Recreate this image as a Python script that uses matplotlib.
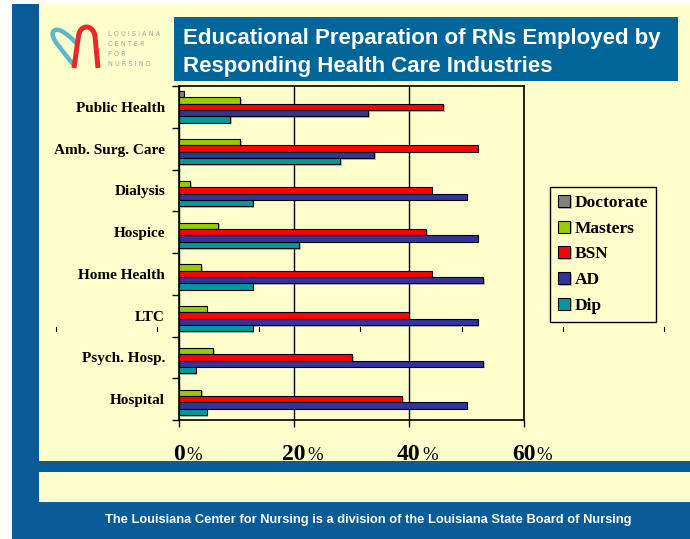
import numpy as np
import matplotlib
matplotlib.use("Agg")
from matplotlib import pyplot as plt
from matplotlib.patches import Rectangle, PathPatch
from matplotlib.lines import Line2D
from matplotlib.path import Path
from matplotlib.transforms import Affine2D
import matplotlib.patheffects as pe

# data (percent of RNs)
categories = ["Public Health", "Amb. Surg. Care", "Dialysis", "Hospice",
              "Home Health", "LTC", "Psych. Hosp.", "Hospital"]
doctorate = [0.8, 0, 0, 0, 0, 0, 0, 0]
masters = [10.7, 10.7, 2.0, 6.8, 3.9, 4.8, 5.9, 3.9]
bsn = [46.0, 52.0, 44.0, 43.0, 44.0, 40.0, 30.1, 38.9]
ad = [32.9, 34.0, 50.1, 52.0, 52.9, 52.0, 52.9, 50.1]
dip = [8.9, 28.0, 12.8, 20.9, 12.8, 12.8, 2.9, 4.8]
series_names = ["Doctorate", "Masters", "BSN", "AD", "Dip"]
xtick_vals = [0, 20, 40, 60]
xtick_text = ["0", "20", "40", "60"]

colors = ["#808080", "#99CC00", "#FF0000", "#333399", "#009999"]
cream = "#FFFFCC"
band_blue = "#0A5C98"
title_blue = "#006699"

W, H = 690, 539
fig = plt.figure(figsize=(6.9, 5.39), dpi=100, facecolor="white")
# pixel coords (origin top-left) -> figure
pix = Affine2D().scale(1 / W, -1 / H).translate(0, 1) + fig.transFigure


def rect(x0, y0, x1, y1, color, z=-10):
    fig.add_artist(Rectangle((x0, y0), x1 - x0, y1 - y0, transform=pix,
                             facecolor=color, edgecolor="none", zorder=z))


# page background
rect(12, 4, 690, 539, band_blue)
rect(39, 4, 690, 461, cream)
rect(39, 472, 690, 502, cream)
rect(174, 17, 678, 81, title_blue, z=-5)

# logo
teal = Path([(75.5, 67), (62, 50), (50, 38), (53, 32), (56, 27), (64, 30), (77, 44)],
            [Path.MOVETO, Path.CURVE4, Path.CURVE4, Path.CURVE4,
             Path.CURVE4, Path.CURVE4, Path.CURVE4])
red = Path([(74, 68), (78.5, 36), (80, 24), (93, 24), (95, 36), (98, 68)],
           [Path.MOVETO, Path.LINETO, Path.CURVE4, Path.CURVE4, Path.CURVE4, Path.LINETO])
fig.add_artist(PathPatch(teal, transform=pix, facecolor="none", edgecolor="#5BB8CC", lw=3.2))
fig.add_artist(PathPatch(red, transform=pix, facecolor="none", edgecolor="#E8292A", lw=3.6))
for i, word in enumerate(["LOUISIANA", "CENTER", "FOR", "NURSING"]):
    fig.text(108 / W, 1 - (34 + 10 * i) / H, " ".join(word), fontsize=4.7,
             color="#a0a0a0", va="center", ha="left")

# title
fig.text(183 / W, 1 - 44 / H, "Educational Preparation of RNs Employed by",
         color="white", fontsize=16, weight="bold", family="Liberation Sans", va="baseline")
fig.text(183 / W, 1 - 72 / H, "Responding Health Care Industries",
         color="white", fontsize=16, weight="bold", family="Liberation Sans", va="baseline")

# footer
fig.text(368 / W, 1 - 520 / H,
         "The Louisiana Center for Nursing is a division of the Louisiana State Board of Nursing",
         color="white", fontsize=9.3, weight="bold", family="Liberation Sans",
         ha="center", va="center")

ax = fig.add_axes([179 / W, 1 - 420 / H, (523.7 - 179) / W, (420 - 86) / H])
ax.set_facecolor(cream)

ys = np.arange(len(categories))
h = 0.151
all_series = [doctorate, masters, bsn, ad, dip]
for k, (name, vals, c) in enumerate(zip(series_names, all_series, colors)):
    ax.barh(ys + (k - 2) * h, vals, height=h, color=c, edgecolor="black",
            linewidth=0.8, label=name, zorder=3,
            path_effects=[pe.SimplePatchShadow(offset=(1.2, -1.2), shadow_rgbFace="#777777", alpha=0.5),
                          pe.Normal()])

ax.set_xlim(0, 60)
ax.set_ylim(len(categories) - 0.5, -0.5)
ax.set_xticks(xtick_vals)
ax.set_xticklabels([])
ax.tick_params(axis="x", direction="out", length=5, width=1, color="black")
ax.grid(axis="x", color="black", linewidth=1)
ax.set_axisbelow(True)

ax.set_yticks(np.arange(-0.5, len(categories), 1))
ax.set_yticklabels([])
ax.tick_params(axis="y", which="major", direction="out", length=5, width=1)
ax.set_yticks(ys, categories, minor=True, fontfamily="Liberation Serif",
              fontweight="bold", fontsize=11)
ax.tick_params(axis="y", which="minor", length=0, pad=10)
for s in ax.spines.values():
    s.set_linewidth(1.2)
    s.set_color("black")

# x labels: big digit + small percent sign
for v, lab in zip(xtick_vals, xtick_text):
    t = ax.annotate(lab, xy=(v, 0), xycoords=("data", "axes fraction"),
                    xytext=(0, -28.5), textcoords="offset points", ha="center",
                    va="baseline", fontsize=17, fontweight="bold",
                    fontfamily="Liberation Serif")
    ax.annotate("%", xy=(1, 0), xycoords=t, xytext=(1, 0.3), textcoords="offset points",
                ha="left", va="bottom", fontsize=13.5, fontfamily="Liberation Serif")

leg = ax.legend(loc="upper left", bbox_to_anchor=(550 / W, 1 - 187 / H),
                bbox_transform=fig.transFigure, fancybox=False, edgecolor="black",
                facecolor=cream, framealpha=1,
                prop={"family": "Liberation Serif", "weight": "bold", "size": 12.5},
                handlelength=0.7, handleheight=0.7, handletextpad=0.3,
                labelspacing=0.55, borderpad=0.45, borderaxespad=0)
leg.get_frame().set_linewidth(1)

# stray tick marks in the original slide
for x in [56, 157, 259, 360, 462, 563, 664]:
    fig.add_artist(Line2D([x, x], [327, 330.5], transform=pix, color="black", lw=0.8, zorder=10))

fig.savefig("out.png", dpi=100, facecolor="white")
